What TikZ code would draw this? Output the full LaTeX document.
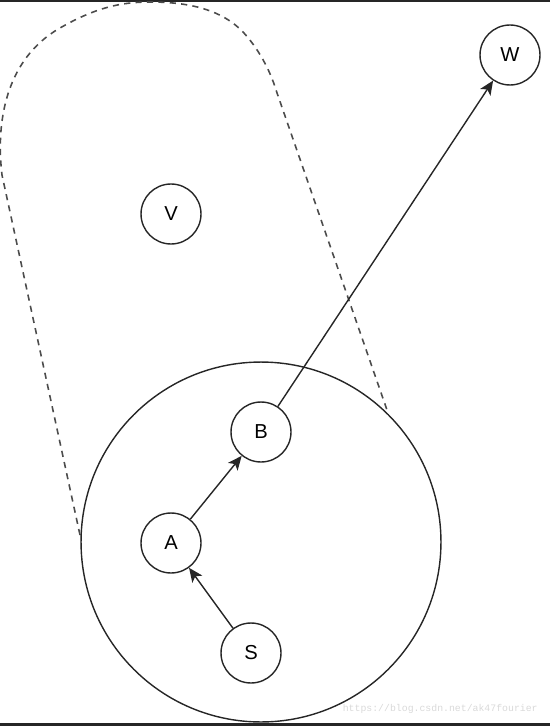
\documentclass[tikz,border=0pt]{standalone}
\usepackage{fontspec}
\setmainfont{Liberation Sans}
\newfontfamily\markfont{Liberation Mono}
\usetikzlibrary{arrows.meta, positioning}
\colorlet{cBar}{black!85}
\colorlet{cMark}{black!15}
\colorlet{cLine}{black!85}

\begin{document}
\begin{tikzpicture}[x=0.02cm, y=-0.02cm,
    vertex/.style={draw=cLine, circle, line width=0.8pt, minimum size=1.2cm, inner sep=0pt,
                   font=\fontsize{11.5}{13}\selectfont},
    edge/.style={-{Stealth[length=8pt, width=7pt, inset=2pt]}, line width=0.8pt, cLine}]
    \useasboundingbox (0,0) rectangle (550,726);
    % Frame bars
    \fill[cBar] (0,0) rectangle (550,2);
    \fill[cBar] (0,723) rectangle (550,726);
    % Dashed region
    \draw[black!70, line width=0.9pt, dash pattern=on 3.5pt off 3pt]
        (80,535) -- (2,175) .. controls (-4,125) and (4,60) .. (60,28)
        .. controls (95,8) and (120,2) .. (150,2)
        .. controls (190,2) and (222,10) .. (243,32)
        .. controls (258,48) and (270,70) .. (276,90) -- (387,410);
    % Big circle
    \node[draw=cLine, circle, line width=0.8pt, minimum size=7.2cm, inner sep=0pt] (region) at (261,542) {};
    % Vertices
    \node[vertex] (S) at (251,653) {S};
    \node[vertex] (A) at (171,543) {A};
    \node[vertex] (B) at (261,432) {B};
    \node[vertex] (V) at (171,214) {V};
    \node[vertex] (W) at (510,55) {W};
    % Edges
    \draw[edge] (S) -- (A);
    \draw[edge] (A) -- (B);
    \draw[edge] (B) -- (W);
    % Watermark
    \node[font=\markfont\fontsize{5.6}{6}\selectfont, text=cMark, anchor=east, inner sep=0pt] (mark)
        at (538,709) {https://blog.csdn.net/ak47fourier};
\end{tikzpicture}
\end{document}
